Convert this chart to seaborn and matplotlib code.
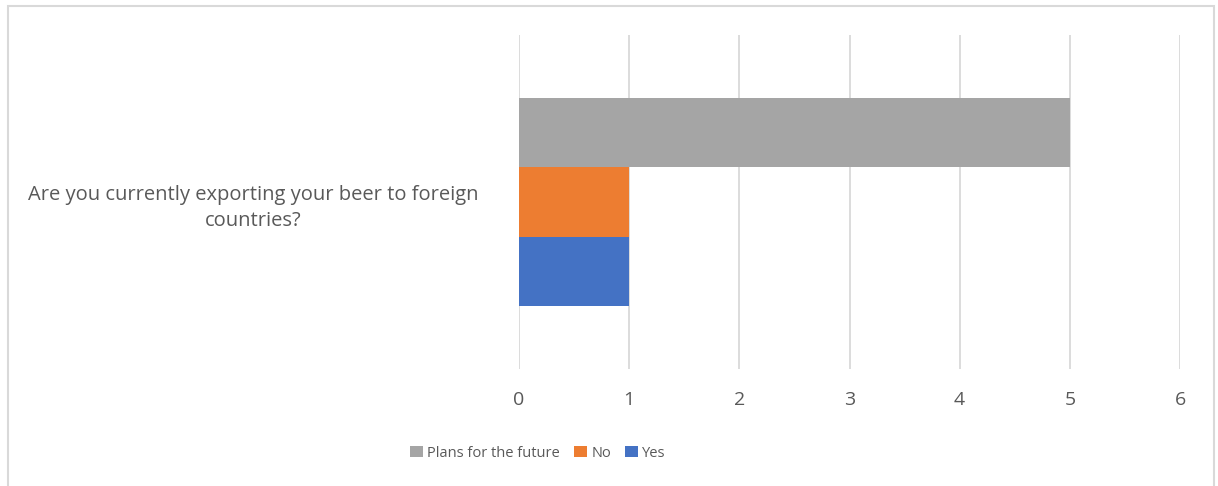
import matplotlib
matplotlib.use("Agg")
import matplotlib.pyplot as plt
from matplotlib.patches import Rectangle
import seaborn as sns
import pandas as pd

question = ["Are you currently exporting your beer to foreign\ncountries?"]
series = ["Plans for the future", "No", "Yes"]
values = [5, 1, 1]
colors = ["#A5A5A5", "#ED7D31", "#4472C4"]
x_ticks = [0, 1, 2, 3, 4, 5, 6]

df = pd.DataFrame({
    "question": question * len(series),
    "series": series,
    "value": values,
})

sns.set_theme(style="white")
plt.rcParams["font.family"] = ["Open Sans", "DejaVu Sans"]
text_color = "#595959"
grid_color = "#D9D9D9"

W, H = 1218, 486
fig = plt.figure(figsize=(W / 100, H / 100), dpi=100)
fig.patch.set_facecolor("white")
ax = fig.add_axes([519 / W, 1 - 369 / H, (1180 - 519) / W, (369 - 35) / H])

sns.barplot(
    data=df, y="question", x="value", hue="series",
    hue_order=series, palette=colors, orient="h",
    width=0.62, saturation=1, linewidth=0, ax=ax, legend=True,
)

ax.set_xlim(0, 6)
ax.set_ylim(0.5, -0.5)
ax.set_xticks(x_ticks)
ax.set_xticklabels([str(t) for t in x_ticks])
ax.set_xlabel("")
ax.set_ylabel("")
for s in ax.spines.values():
    s.set_visible(False)
ax.grid(axis="x", color=grid_color, linewidth=1.3)
ax.grid(axis="y", visible=False)
ax.set_axisbelow(True)
ax.tick_params(axis="x", length=0, pad=16, labelsize=14, labelcolor=text_color)
ax.tick_params(axis="y", length=0, pad=29, labelcolor=text_color)
for lbl in ax.get_yticklabels():
    lbl.set_fontsize(14.5)
    lbl.set_multialignment("center")
    lbl.set_linespacing(1.45)

handles, labels = ax.get_legend_handles_labels()
ax.get_legend().remove()
fig.legend(
    handles, labels, loc="center", bbox_to_anchor=(538 / W, 1 - 453 / H),
    ncol=3, frameon=False, labelcolor=text_color,
    prop={"size": 10.5},
    handlelength=0.85, handleheight=0.85, handletextpad=0.3, columnspacing=1.0,
)

# outer chart border
fig.patches.append(Rectangle(
    (8 / W, -0.05), (1214 - 8) / W, 1.05 - 6 / H,
    transform=fig.transFigure, fill=False, edgecolor=grid_color, linewidth=1.5,
))

fig.savefig("out.png", dpi=100)
